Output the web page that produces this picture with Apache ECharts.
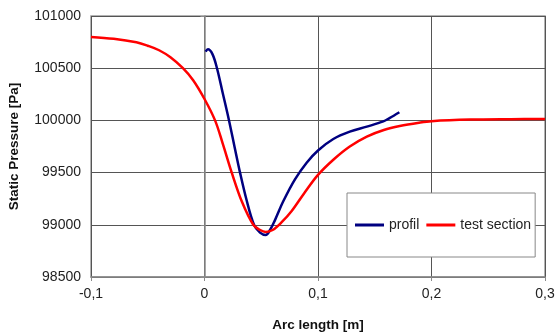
<!DOCTYPE html>
<html>
<head>
<meta charset="utf-8">
<script src="https://cdn.jsdelivr.net/npm/echarts@6/dist/echarts.min.js"></script>
<style>
  html, body { margin: 0; padding: 0; background: #ffffff; }
  #chart { width: 555px; height: 334px; }
</style>
</head>
<body>
<div id="chart"></div>
<script>
// Arc length [m] and static pressure [Pa] along the test section wall
const testSectionX = [-0.1, -0.08, -0.06, -0.05, -0.04, -0.03, -0.019, -0.01, 0, 0.0093, 0.016, 0.024, 0.033, 0.043, 0.049, 0.054, 0.06, 0.068, 0.077, 0.088, 0.1, 0.114, 0.128, 0.143, 0.158, 0.172, 0.189, 0.2, 0.234, 0.27, 0.3];
const testSectionP = [100800, 100782, 100748, 100715, 100672, 100605, 100500, 100385, 100205, 100000, 99780, 99500, 99220, 99000, 98950, 98932, 98950, 99025, 99135, 99305, 99478, 99628, 99750, 99845, 99908, 99946, 99978, 99993, 100008, 100012, 100013];

// Arc length [m] and static pressure [Pa] along the profile
const profilX = [0.001, 0.003, 0.007, 0.011, 0.016, 0.0216, 0.0265, 0.0313, 0.037, 0.0436, 0.0489, 0.0539, 0.0577, 0.0621, 0.0694, 0.0797, 0.09, 0.1, 0.1135, 0.128, 0.143, 0.1575, 0.163, 0.1717];
const profilP = [100658, 100681, 100635, 100500, 100265, 100000, 99745, 99500, 99240, 99000, 98925, 98902, 98950, 99045, 99225, 99435, 99595, 99712, 99822, 99892, 99940, 99990, 100022, 100078];

// Axis ranges and tick steps
const xMin = -0.1, xMax = 0.3, xStep = 0.1;
const yMin = 98500, yMax = 101000, yStep = 500;

const seriesNames = ['profil', 'test section'];
const axisTitleX = 'Arc length [m]';
const axisTitleY = 'Static Pressure [Pa]';

const pairs = (xs, ys) => xs.map((x, i) => [x, ys[i]]);

const font = 'Arial, "Liberation Sans", sans-serif';
const chart = echarts.init(document.getElementById('chart'), null, { renderer: 'canvas' });

chart.setOption({
  backgroundColor: '#ffffff',
  animation: false,
  grid: {
    left: 91, right: 10, top: 16, bottom: 57,
    outerBoundsMode: 'none', containLabel: false,
    show: true, borderColor: '#9a9a9a', borderWidth: 1.5, backgroundColor: 'transparent'
  },
  xAxis: {
    type: 'value', min: xMin, max: xMax, interval: xStep,
    name: axisTitleX, nameLocation: 'middle', nameGap: 41,
    nameTextStyle: { fontFamily: font, fontWeight: 'bold', fontSize: 13.5, color: '#111' },
    axisLine: { show: true, onZero: false, lineStyle: { color: '#8a8a8a', width: 1.5 } },
    axisTick: { show: true, inside: false, length: 4, lineStyle: { color: '#8a8a8a' } },
    axisLabel: {
      margin: 10, fontFamily: font, fontSize: 14, color: '#222',
      formatter: v => String(Math.round(v * 10) / 10).replace('.', ',')
    },
    splitLine: { show: true, lineStyle: { color: '#555', width: 1 } }
  },
  yAxis: {
    type: 'value', min: yMin, max: yMax, interval: yStep,
    name: axisTitleY, nameLocation: 'middle', nameGap: 70,
    nameTextStyle: { fontFamily: font, fontWeight: 'bold', fontSize: 13.5, color: '#111' },
    axisLine: { show: true, lineStyle: { color: '#8a8a8a', width: 1.5 } },
    axisTick: { show: true, inside: false, length: 4, lineStyle: { color: '#8a8a8a' } },
    axisLabel: { margin: 10, fontFamily: font, fontSize: 14, color: '#222', formatter: v => String(v) },
    splitLine: { show: true, lineStyle: { color: '#555', width: 1 } }
  },
  legend: {
    left: 347, top: 193,
    orient: 'horizontal',
    backgroundColor: '#ffffff', borderColor: '#888', borderWidth: 1,
    padding: [25, 4, 25, 8],
    itemWidth: 29, itemHeight: 3, itemGap: 7,
    icon: 'rect',
    textStyle: { fontFamily: font, fontSize: 14, color: '#222' },
    data: seriesNames
  },
  series: [
    {
      name: seriesNames[0], type: 'line', data: pairs(profilX, profilP),
      smooth: 0.35, symbol: 'none', showSymbol: false, z: 3,
      lineStyle: { color: '#000080', width: 2.5 }, itemStyle: { color: '#000080' }
    },
    {
      name: seriesNames[1], type: 'line', data: pairs(testSectionX, testSectionP),
      smooth: 0.35, symbol: 'none', showSymbol: false, z: 4,
      lineStyle: { color: '#ff0000', width: 2.5 }, itemStyle: { color: '#ff0000' }
    }
  ]
});
</script>
</body>
</html>
